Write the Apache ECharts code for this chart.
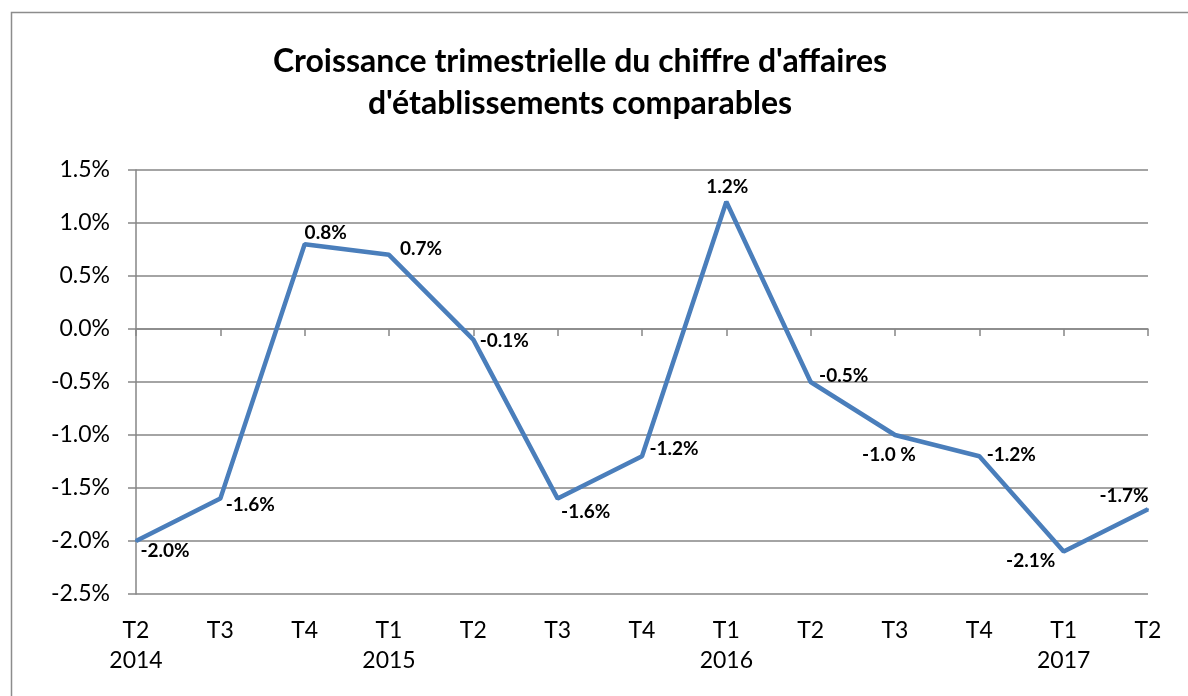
<!DOCTYPE html>
<html>
<head>
<meta charset="utf-8">
<script src="https://cdn.jsdelivr.net/npm/echarts@6/dist/echarts.min.js"></script>
<style>
  html, body { margin: 0; padding: 0; background: #fff; }
  #main { width: 1188px; height: 696px; }
</style>
</head>
<body>
<div id="main"></div>
<script>
const quarters = ["T2\n2014", "T3", "T4", "T1\n2015", "T2", "T3", "T4", "T1\n2016", "T2", "T3", "T4", "T1\n2017", "T2"];
const growth = [-2.0, -1.6, 0.8, 0.7, -0.1, -1.6, -1.2, 1.2, -0.5, -1.0, -1.2, -2.1, -1.7];
const pointLabels = ["-2.0%", "-1.6%", "0.8%", "0.7%", "-0.1%", "-1.6%", "-1.2%", "1.2%", "-0.5%", "-1.0 %", "-1.2%", "-2.1%", "-1.7%"];

// label offsets from each point (label centre), like the excel chart
const labelOffsets = [[29, 10], [30, 6], [21, -11], [32, -6], [31, 1], [28, 13], [32, -7],
  [1, -15], [33, -6], [-6, 20], [32, -1], [-33, 9], [-24, -13]];

const fontFamily = "Lato, 'DejaVu Sans', sans-serif";
const chart = echarts.init(document.getElementById("main"));

chart.setOption({
  animation: false,
  backgroundColor: "#fff",
  title: {
    text: "Croissance trimestrielle du chiffre d'affaires\nd'établissements comparables",
    left: 575,
    top: 36,
    textAlign: "center",
    textStyle: {
      fontFamily: fontFamily,
      fontSize: 32,
      fontWeight: "bold",
      color: "#000",
      lineHeight: 42,
    },
  },
  graphic: [
    {
      type: "rect",
      shape: { x: 11.5, y: 12.5, width: 1200, height: 700 },
      style: { fill: "none", stroke: "#8c8c8c", lineWidth: 1.5 },
      silent: true,
    },
  ],
  grid: { left: 136, right: 40, top: 170, bottom: 102 },
  xAxis: [
    {
      type: "category",
      data: quarters,
      boundaryGap: false,
      axisLine: { onZero: true, lineStyle: { color: "#868686", width: 1.5 } },
      axisTick: { show: true, length: 7, lineStyle: { color: "#868686", width: 1.5 } },
      axisLabel: { show: false },
      splitLine: { show: false },
    },
    {
      type: "category",
      data: quarters,
      boundaryGap: false,
      position: "bottom",
      axisLine: { show: false },
      axisTick: { show: false },
      axisLabel: {
        margin: 22,
        fontFamily: fontFamily,
        fontSize: 23,
        lineHeight: 30,
        color: "#000",
      },
    },
  ],
  yAxis: {
    type: "value",
    min: -2.5,
    max: 1.5,
    interval: 0.5,
    axisLine: { show: true, lineStyle: { color: "#868686", width: 1.5 } },
    axisTick: { show: true, length: 8, lineStyle: { color: "#868686", width: 1.5 } },
    splitLine: { lineStyle: { color: "#868686", width: 1.5 } },
    axisLabel: {
      margin: 26,
      fontFamily: fontFamily,
      fontSize: 23,
      color: "#000",
      formatter: (v) => v.toFixed(1) + "%",
    },
  },
  series: [
    {
      type: "line",
      xAxisIndex: 0,
      data: growth.map((v, i) => ({
        value: v,
        label: { offset: labelOffsets[i] },
      })),
      symbol: "circle",
      symbolSize: 2,
      lineStyle: { color: "#4a7ebb", width: 4.5 },
      itemStyle: { color: "#4a7ebb" },
      label: {
        show: true,
        position: "inside",
        fontFamily: fontFamily,
        fontSize: 19,
        fontWeight: "bold",
        color: "#000",
        formatter: (p) => pointLabels[p.dataIndex],
      },
    },
  ],
});
</script>
</body>
</html>
